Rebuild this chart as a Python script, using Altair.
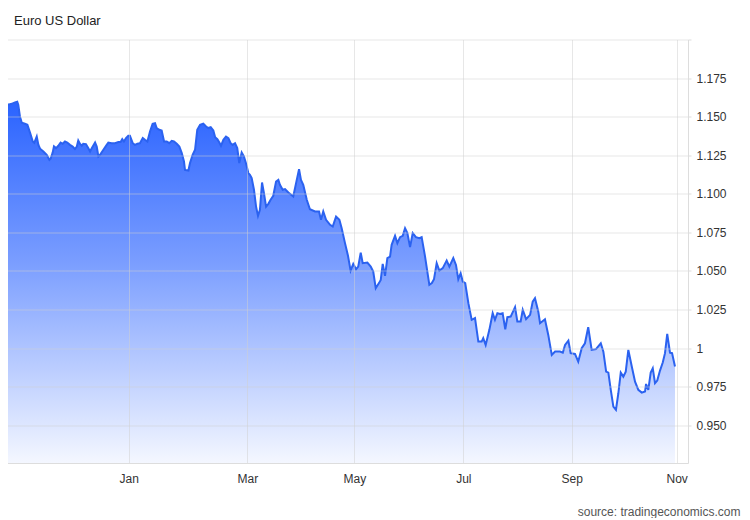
import altair as alt
import pandas as pd

TITLE = "Euro US Dollar"
SOURCE = "source: tradingeconomics.com"

# days counted from 2022-01-01 (negative = late 2021)
day_offset = [
    -62.0, -61.2, -60.1, -59.1, -58.0, -56.4, -54.8, -53.7, -53.2, -52.4,
    -51.5, -50.0, -48.8, -47.5, -46.2, -45.5, -44.3, -43.5, -42.7, -41.1,
    -39.5, -38.2, -37.6, -36.6, -36.0, -35.0, -33.9, -32.8, -31.8, -30.7,
    -29.6, -28.3, -27.0, -25.9, -25.0, -24.3, -23.5, -22.6, -21.9, -20.6,
    -19.5, -18.6, -17.8, -16.2, -15.4, -14.6, -13.8, -12.2, -10.6, -9.8,
    -8.2, -6.6, -5.0, -3.9, -3.1, -2.3, -1.3, -0.2,
    0.6, 2.0, 3.1, 4.3, 5.6, 7.0, 8.1, 9.3, 10.6, 11.9,
    13.1, 13.9, 15.2, 16.4, 17.6, 18.9, 20.2, 21.4, 22.5, 23.9,
    25.2, 26.4, 27.5, 28.0, 29.7, 30.5, 31.8, 33.0, 34.1, 35.5,
    37.1, 38.5, 39.6, 40.8, 42.1, 43.0, 44.1, 45.1, 45.9, 47.1,
    48.4, 49.6, 50.7, 51.7, 52.9, 54.0, 55.0, 56.2, 57.3, 58.3,
    59.6, 60.5, 61.5, 62.8, 64.0, 65.1, 66.2, 67.4, 68.5, 69.7,
    71.0, 72.3, 73.8, 75.4, 76.7, 77.6, 79.2, 80.5, 82.4, 85.2,
    86.8, 88.5, 89.6, 90.9, 92.9, 94.7, 97.6, 99.9, 101.0, 102.3,
    103.9, 106.2, 107.7, 109.6, 111.5, 112.8, 114.7, 116.4, 117.9, 119.4,
    121.0, 122.2, 123.6, 124.7, 127.3, 129.2, 130.6, 132.0, 133.8, 134.8,
    135.9, 137.2, 138.5, 140.0, 140.9, 142.8, 144.1, 145.6, 147.1, 148.4,
    149.7, 151.2, 152.7, 154.5, 156.4, 157.7, 159.6, 162.0, 163.4, 164.6,
    166.1, 167.6, 169.5, 171.7, 173.2, 175.4, 176.9, 178.2, 179.5, 180.7,
    182.1, 183.9, 185.8, 187.7, 189.6, 191.5, 192.4, 193.8, 195.9, 197.8,
    199.1, 200.5, 202.0, 203.5, 205.0, 206.2, 208.1, 210.6, 211.9, 213.8,
    215.0, 216.9, 219.2, 220.7, 222.0, 223.9, 224.9, 227.7, 229.6, 231.6,
    233.5, 236.3, 237.9, 239.2, 241.1, 242.4,
    244.9, 246.8, 248.8, 250.7, 252.6, 254.6, 257.1, 259.9, 261.4, 263.0,
    264.3, 265.7, 267.2, 268.7, 270.1, 271.5, 273.0, 274.4, 275.9, 277.9,
    279.8, 281.7, 283.7, 285.6, 286.2, 287.5, 288.9, 290.1, 291.4, 292.7,
    294.3, 295.9, 297.2, 298.5, 300.1, 301.3, 303.0,
]

rate = [
    1.1609, 1.1598, 1.1614, 1.1590, 1.1577, 1.1583, 1.1592, 1.1596, 1.1577, 1.1501,
    1.1460, 1.1454, 1.1447, 1.1395, 1.1339, 1.1330, 1.1371, 1.1317, 1.1292, 1.1274,
    1.1253, 1.1220, 1.1227, 1.1268, 1.1307, 1.1296, 1.1311, 1.1332, 1.1324, 1.1339,
    1.1332, 1.1317, 1.1306, 1.1290, 1.1306, 1.1345, 1.1324, 1.1311, 1.1324, 1.1322,
    1.1296, 1.1274, 1.1296, 1.1332, 1.1306, 1.1242, 1.1253, 1.1285, 1.1317, 1.1332,
    1.1328, 1.1328, 1.1335, 1.1335, 1.1354, 1.1339, 1.1361, 1.1376,
    1.1376, 1.1328, 1.1317, 1.1324, 1.1328, 1.1361, 1.1350, 1.1339, 1.1404, 1.1454,
    1.1458, 1.1426, 1.1415, 1.1410, 1.1339, 1.1339, 1.1328, 1.1343, 1.1339, 1.1324,
    1.1306, 1.1264, 1.1209, 1.1155, 1.1151, 1.1199, 1.1253, 1.1285, 1.1415, 1.1447,
    1.1454, 1.1436, 1.1426, 1.1432, 1.1410, 1.1367, 1.1354, 1.1332, 1.1311, 1.1350,
    1.1371, 1.1361, 1.1328, 1.1317, 1.1328, 1.1296, 1.1199, 1.1268, 1.1242, 1.1199,
    1.1134, 1.1123, 1.1102, 1.1026, 1.0917, 1.0857, 1.0896, 1.1073, 1.1004, 1.0917,
    1.0935, 1.0961, 1.0987, 1.1079, 1.1090, 1.1058, 1.1026, 1.1030, 1.1008, 1.0982,
    1.1069, 1.1160, 1.1090, 1.1058, 1.0961, 1.0900, 1.0885, 1.0885, 1.0831, 1.0885,
    1.0831, 1.0799, 1.0788, 1.0852, 1.0831, 1.0777, 1.0680, 1.0598, 1.0502, 1.0546,
    1.0511, 1.0528, 1.0619, 1.0550, 1.0554, 1.0528, 1.0496, 1.0388, 1.0421, 1.0442,
    1.0546, 1.0468, 1.0583, 1.0593, 1.0669, 1.0727, 1.0680, 1.0719, 1.0727, 1.0777,
    1.0745, 1.0654, 1.0745, 1.0719, 1.0712, 1.0719, 1.0593, 1.0410, 1.0421, 1.0446,
    1.0550, 1.0502, 1.0518, 1.0567, 1.0528, 1.0583, 1.0539, 1.0446, 1.0485, 1.0431,
    1.0421, 1.0291, 1.0183, 1.0194, 1.0042, 1.0042, 1.0064, 1.0020, 1.0118, 1.0226,
    1.0183, 1.0226, 1.0221, 1.0226, 1.0122, 1.0200, 1.0204, 1.0265, 1.0172, 1.0172,
    1.0247, 1.0187, 1.0215, 1.0301, 1.0323, 1.0236, 1.0161, 1.0187, 1.0085, 0.9955,
    0.9977, 0.9977, 0.9970, 1.0020, 1.0048, 0.9967,
    0.9962, 0.9912, 0.9999, 1.0031, 1.0135, 0.9988, 0.9993, 1.0031, 0.9977, 0.9847,
    0.9841, 0.9729, 0.9620, 0.9599, 0.9707, 0.9841, 0.9815, 0.9847, 0.9988, 0.9880,
    0.9782, 0.9729, 0.9711, 0.9718, 0.9767, 0.9729, 0.9841, 0.9869, 0.9772, 0.9789,
    0.9854, 0.9906, 0.9967, 1.0092, 0.9970, 0.9967, 0.9880,
]

# month starts (day offsets from 2022-01-01) and their labels
month_days = [0, 59, 120, 181, 243, 304]
month_labels = ["Jan", "Mar", "May", "Jul", "Sep", "Nov"]
y_ticks = [0.95, 0.975, 1.0, 1.025, 1.05, 1.075, 1.1, 1.125, 1.15, 1.175, 1.2]
Y_MIN, Y_MAX = 0.9255, 1.2

# the source chart spaces its months unevenly: piecewise linear x scale
x_breaks = [-62] + month_days + [310.6]
x_break_px = [0, 128.7, 247.3, 354.3, 463.3, 571.7, 676.7, 688]

df = pd.DataFrame({"day": day_offset, "rate": rate})

label_expr = " : ".join(
    f"datum.value == {d} ? '{lab}'" for d, lab in zip(month_days, month_labels)
) + " : ''"

LINE_BLUE = "#2b62f0"
gradient = alt.Gradient(
    gradient="linear",
    stops=[
        alt.GradientStop(color="rgba(41,98,255,1.0)", offset=0),
        alt.GradientStop(color="rgba(41,98,255,0.62)", offset=0.45),
        alt.GradientStop(color="rgba(41,98,255,0.05)", offset=1),
    ],
    x1=1, x2=1, y1=0, y2=1,
)

FONT = "Liberation Sans"
GRID = "#cfcfcf"
GRID_OPACITY = 0.5

chart = (
    alt.Chart(df)
    .mark_area(
        color=gradient,
        opacity=1,
        fillOpacity=1,
        line={"color": LINE_BLUE, "strokeWidth": 2, "opacity": 1},
        clip=True,
        interpolate="linear",
    )
    .encode(
        x=alt.X(
            "day:Q",
            scale=alt.Scale(domain=x_breaks, range=x_break_px, nice=False, zero=False),
            axis=alt.Axis(
                values=month_days,
                labelExpr=label_expr,
                title=SOURCE,
                titleFont=FONT,
                titleFontSize=12,
                titleFontWeight="normal",
                titleColor="#555555",
                titleAnchor="end",
                titleAlign="right",
                titleX=740,
                titleY=48,
                titleBaseline="middle",
                labelFont=FONT,
                labelFontSize=12,
                labelColor="#333333",
                labelPadding=10,
                labelFlush=False,
                ticks=False,
                grid=True,
                gridColor=GRID,
                gridOpacity=GRID_OPACITY,
                domainColor="#dddddd",
                zindex=1,
            ),
        ),
        y=alt.Y(
            "rate:Q",
            scale=alt.Scale(domain=[Y_MIN, Y_MAX], nice=False, zero=False),
            axis=alt.Axis(
                orient="right",
                values=y_ticks,
                labelExpr="datum.value > 1.19 ? '' : (datum.value == 1 ? '1' : format(datum.value, '.3f'))",
                labelFont=FONT,
                labelFontSize=12,
                labelColor="#333333",
                labelPadding=5,
                tickSize=3,
                tickColor="#dddddd",
                grid=True,
                gridColor=GRID,
                gridOpacity=GRID_OPACITY,
                domainColor="#dddddd",
                title=None,
                zindex=1,
            ),
        ),
        y2=alt.datum(Y_MIN),
    )
    .properties(
        width=688,
        height=423.5,
        autosize=alt.AutoSizeParams(type="none"),
        padding={"left": -8, "top": 31.5, "right": 54, "bottom": 55},
        title=alt.TitleParams(
            TITLE,
            anchor="start",
            font=FONT,
            fontSize=13,
            fontWeight="normal",
            color="#222222",
            dx=14,
            dy=14,
            offset=15,
            baseline="alphabetic",
        ),
    )
    .configure_view(stroke=None)
)

chart.save("out.html", embed_options={"renderer": "svg", "actions": False})
